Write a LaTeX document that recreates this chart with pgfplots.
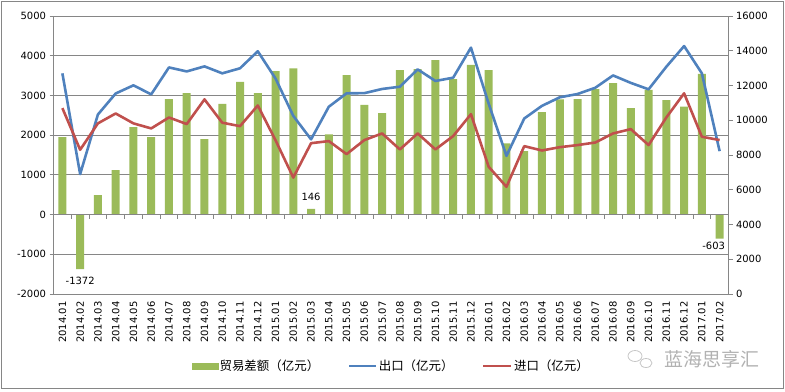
\documentclass[border=0pt]{standalone}
\usepackage{pgfplots}
\usepackage{pgfplotstable}
\pgfplotsset{compat=1.18}
\usepackage{fontspec}
\setmainfont{DejaVu Sans}
\newfontfamily\cjk{Noto Sans CJK SC}
\definecolor{bargreen}{HTML}{9BBB59}
\definecolor{expblue}{HTML}{4F81BD}
\definecolor{impred}{HTML}{C0504D}
\definecolor{axgray}{HTML}{868686}

\pgfplotstableread{
idx bal exp imp
0 1950 12700 10700
1 -1372 6900 8300
2 487 10330 9820
3 1120 11540 10390
4 2200 12010 9820
5 1950 11490 9530
6 2910 13040 10160
7 3060 12810 9780
8 1900 13100 11200
9 2790 12700 9860
10 3340 12990 9660
11 3060 13970 10850
12 3610 12400 8850
13 3680 10250 6700
14 146 8900 8680
15 2020 10780 8800
16 3510 11550 8050
17 2760 11560 8860
18 2555 11800 9240
19 3640 11930 8320
20 3660 12930 9240
21 3890 12260 8320
22 3410 12450 9090
23 3770 14180 10350
24 3640 10950 7320
25 1790 7950 6170
26 1600 10100 8510
27 2580 10830 8260
28 2900 11320 8450
29 2910 11510 8570
30 3160 11870 8720
31 3310 12580 9240
32 2680 12150 9490
33 3140 11780 8570
34 2880 13080 10160
35 2720 14270 11550
36 3540 12700 9050
37 -603 8220 8860
}\datatable

\begin{document}
\begin{tikzpicture}[x=1bp,y=1bp]
\useasboundingbox (0,0) rectangle (785,391);
\draw[axgray, line width=0.75bp] (1.5,2.5) rectangle (783.5,389.5);

\begin{axis}[
  at={(53.5bp,97bp)}, anchor=south west,
  scale only axis, width=675bp, height=278bp,
  xmin=-0.5, xmax=37.5, ymin=-2000, ymax=5000,
  clip=false,
  axis y line*=left, axis x line*=bottom,
  x axis line style={draw=none},
  y axis line style={axgray, line width=0.75bp},
  ytick={-2000,-1000,...,5000},
  ymajorgrids, grid style={axgray, line width=0.75bp},
  tick align=outside, major tick length=4bp,
  ytick style={axgray, line width=0.75bp},
  xtick={0,...,37}, xtick style={draw=none},
  xticklabels={2014.01,2014.02,2014.03,2014.04,2014.05,2014.06,2014.07,2014.08,2014.09,2014.10,2014.11,2014.12,2015.01,2015.02,2015.03,2015.04,2015.05,2015.06,2015.07,2015.08,2015.09,2015.10,2015.11,2015.12,2016.01,2016.02,2016.03,2016.04,2016.05,2016.06,2016.07,2016.08,2016.09,2016.10,2016.11,2016.12,2017.01,2017.02},
  xticklabel style={rotate=90, anchor=east, font=\fontsize{10}{12}\selectfont},
  yticklabel style={font=\fontsize{10}{12}\selectfont},
  scaled y ticks=false,
  /pgf/number format/assume math mode=true,
  /pgf/number format/1000 sep={},
]
\addplot[ybar, bar width=8bp, fill=bargreen, draw=none, bar shift=0pt] table[x=idx, y=bal] {\datatable};
\draw[axgray, line width=0.75bp] (axis cs:-0.5,0) -- (axis cs:37.5,0);
\pgfplotsinvokeforeach{1,...,37}{\draw[axgray, line width=0.75bp] (axis cs:#1-0.5,0) -- ++(0bp,-4bp);}
\node[font=\fontsize{10}{12}\selectfont, anchor=north, yshift=-5bp] at (axis cs:1,-1372) {-1372};
\node[font=\fontsize{10}{12}\selectfont, anchor=south, yshift=5bp] at (axis cs:14,146) {146};
\node[font=\fontsize{10}{12}\selectfont, anchor=north, xshift=-6bp] at (axis cs:37,-603) {-603};
\end{axis}

\begin{axis}[
  at={(53.5bp,97bp)}, anchor=south west,
  scale only axis, width=675bp, height=278bp,
  xmin=-0.5, xmax=37.5, ymin=0, ymax=16000,
  axis y line*=right, axis x line=none,
  y axis line style={axgray, line width=0.75bp},
  ytick={0,2000,...,16000},
  scaled y ticks=false,
  tick align=outside, major tick length=4bp,
  ytick style={axgray, line width=0.75bp},
  yticklabel style={font=\fontsize{10}{12}\selectfont},
  /pgf/number format/assume math mode=true,
  /pgf/number format/1000 sep={},
  legend columns=3,
  legend style={at={(0.5,-0.259)}, anchor=center, draw=none, fill=none,
    nodes={inner sep=1.5bp},
    /tikz/every odd column/.append style={column sep=0bp},
    /tikz/every even column/.append style={column sep=27bp}},
  legend cell align=left,
]
\addlegendimage{legend image code/.code={\fill[bargreen] (0bp,-3bp) rectangle (26bp,3bp);}}
\addlegendentry{\cjk\fontsize{12.5}{14}\selectfont 贸易差额（亿元）}
\addplot[expblue, line width=2.6pt, line join=round, mark=none,
  legend image code/.code={\draw[expblue, line width=2.6pt] (0bp,0bp) -- (27bp,0bp);}]
  table[x=idx, y=exp] {\datatable};
\addlegendentry{\cjk\fontsize{12.5}{14}\selectfont 出口（亿元）}
\addplot[impred, line width=2.6pt, line join=round, mark=none,
  legend image code/.code={\draw[impred, line width=2.6pt] (0bp,0bp) -- (28bp,0bp);}]
  table[x=idx, y=imp] {\datatable};
\addlegendentry{\cjk\fontsize{12.5}{14}\selectfont 进口（亿元）}
\end{axis}

\draw[gray!45, line width=0.8bp] (635,35) ellipse (7 and 5.5);
\draw[gray!45, line width=0.8bp] (646,28) ellipse (6 and 4.5);
\node[text=gray!60, font=\cjk\fontsize{19}{21}\selectfont] at (712,32) {蓝海思享汇};
\end{tikzpicture}
\end{document}
